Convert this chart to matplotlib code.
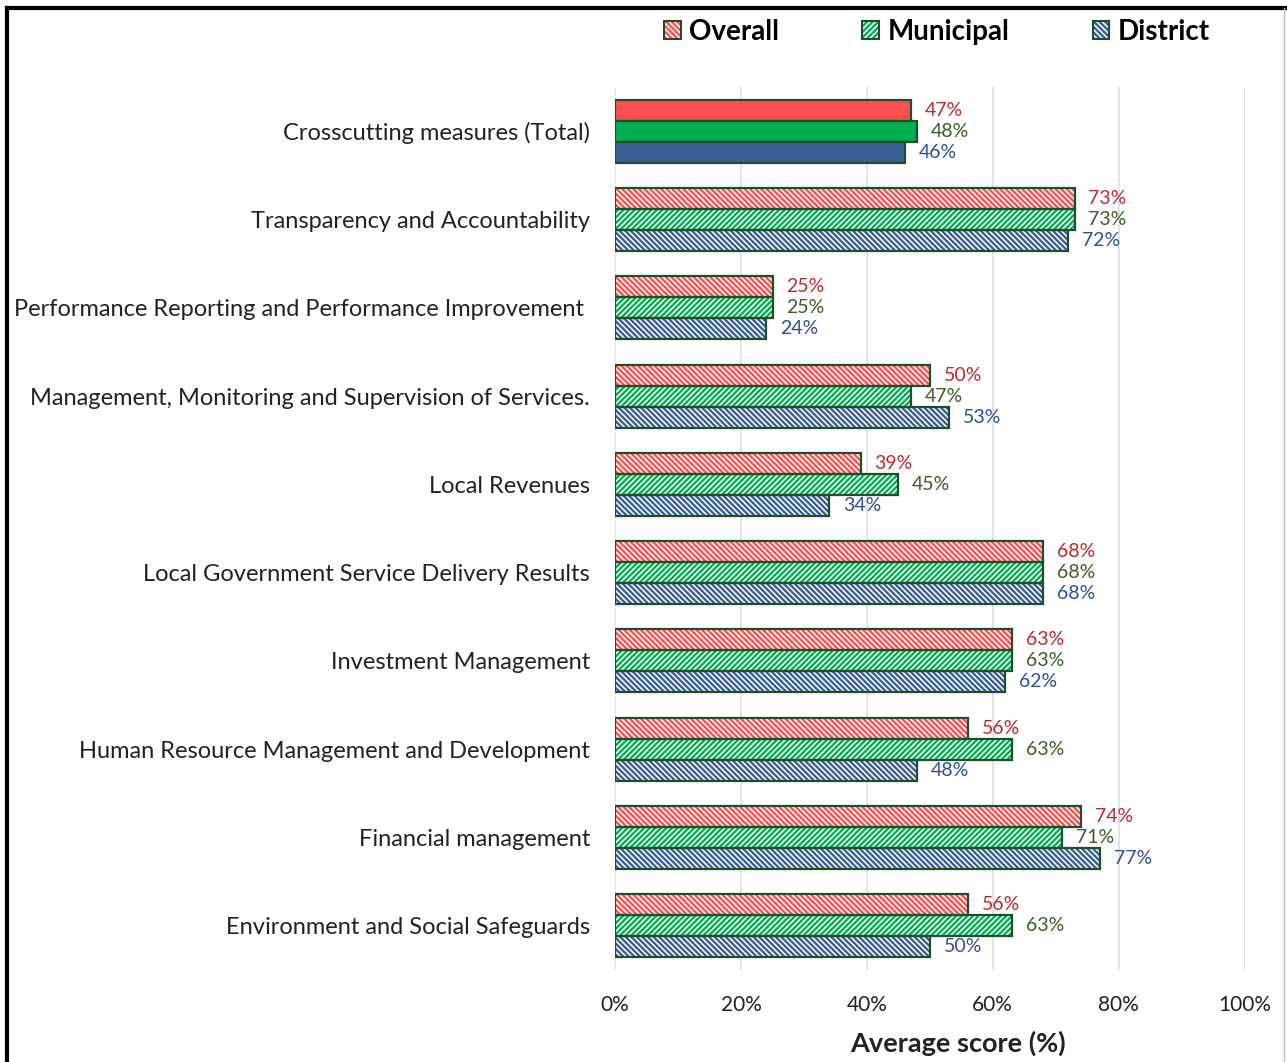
import matplotlib.pyplot as plt
from matplotlib.patches import Patch
from matplotlib.lines import Line2D

# datos (de arriba hacia abajo)
categorias = ['Crosscutting measures (Total)',
              'Transparency and Accountability',
              'Performance Reporting and Performance Improvement ',
              'Management, Monitoring and Supervision of Services.',
              'Local Revenues',
              'Local Government Service Delivery Results',
              'Investment Management',
              'Human Resource Management and Development',
              'Financial management',
              'Environment and Social Safeguards']
overall = [47, 73, 25, 50, 39, 68, 63, 56, 74, 56]
municipal = [48, 73, 25, 47, 45, 68, 63, 63, 71, 63]
district = [46, 72, 24, 53, 34, 68, 62, 48, 77, 50]
series = ['Overall', 'Municipal', 'District']
ticks_x = [0, 20, 40, 60, 80, 100]

colores = ['#FF5050', '#00B050', '#3A5F95']
colores_txt = ['#C0282D', '#3B5E2B', '#2F4F9A']
tramas = ['\\' * 6, '/' * 6, '\\' * 6]
borde = '#1F4E2C'

plt.rcParams['font.family'] = ['Lato', 'DejaVu Sans']
plt.rcParams['hatch.linewidth'] = 1.7

fig = plt.figure(figsize=(12.87, 10.62), dpi=100)
ax = fig.add_axes([0.478, 0.0866, 0.489, 0.8315])

alto = 0.238
pos = list(range(len(categorias)))
for k, valores in enumerate([overall, municipal, district]):
    off = (k - 1) * alto
    y = [p + off for p in pos]
    # la primera categoria va rellena, el resto con trama
    ax.barh(y[:1], valores[:1], height=alto, color=colores[k],
            edgecolor=borde, linewidth=1.6, zorder=3)
    ax.barh(y[1:], valores[1:], height=alto, color='white',
            edgecolor=colores[k], hatch=tramas[k], linewidth=0, zorder=3)
    ax.barh(y[1:], valores[1:], height=alto, fill=False,
            edgecolor=borde, linewidth=1.6, zorder=4)
    for yi, v in zip(y, valores):
        ax.text(v + 2.2, yi, f'{v}%', va='center', ha='left',
                fontsize=14, color=colores_txt[k])

ax.set_ylim(len(categorias) - 0.5, -0.5)
ax.set_xlim(0, 100)
ax.set_yticks(pos)
ax.set_yticklabels(categorias, fontsize=17, color='#222222')
ax.set_xticks(ticks_x)
ax.set_xticklabels([f'{t}%' for t in ticks_x], fontsize=15, color='#222222')
ax.tick_params(axis='both', length=0)
ax.tick_params(axis='y', pad=18)
ax.tick_params(axis='x', pad=18)
ax.grid(axis='x', color='#E0E0E0', linewidth=1.3, zorder=0)
for s in ax.spines.values():
    s.set_visible(False)
ax.set_xlabel('Average score (%)', fontsize=19.5, fontweight='bold',
              color='#222222', labelpad=11, x=0.545)

# leyenda arriba: trama de color con borde verde oscuro
manijas = [(Patch(facecolor='white', edgecolor=colores[k], hatch=tramas[k], linewidth=0),
            Patch(fill=False, edgecolor=borde, linewidth=1.5))
           for k in range(3)]
fig.legend(manijas, series, loc='center', bbox_to_anchor=(0.728, 0.97),
           ncol=3, frameon=False, prop={'weight': 'bold', 'size': 20},
           handlelength=0.6, handleheight=0.6, handletextpad=0.3,
           columnspacing=3.0)

# marco de la figura
fig.add_artist(Line2D([0.0055, 0.0055], [0.0, 0.9925], color='black',
                      linewidth=3, transform=fig.transFigure))
fig.add_artist(Line2D([0.0055, 1.0], [0.9925, 0.9925], color='black',
                      linewidth=3, transform=fig.transFigure))
fig.add_artist(Line2D([0.9975, 0.9975], [0.0, 0.9925], color='#BBBBBB',
                      linewidth=1, transform=fig.transFigure))

fig.savefig('out.png', dpi=100)
